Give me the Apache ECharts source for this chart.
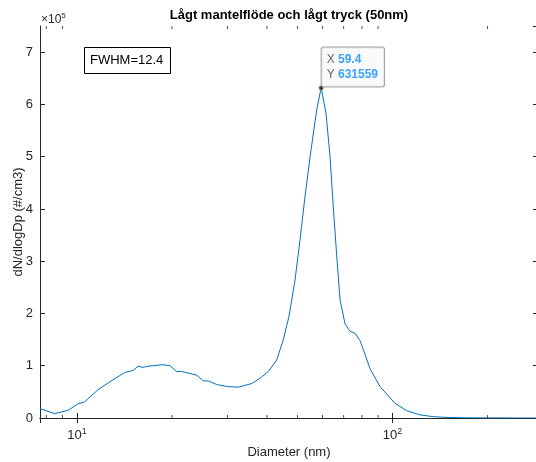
<!DOCTYPE html>
<html>
<head>
<meta charset="utf-8">
<script src="https://cdn.jsdelivr.net/npm/echarts@6/dist/echarts.min.js"></script>
<style>html,body{margin:0;padding:0;background:#fff}#c{width:536px;height:462px}</style>
</head>
<body>
<div id="c"></div>
<script>
// ---- data ----
const diameters = [7.64, 8.50, 9.37, 10.08, 10.58, 11.66, 12.70, 14.17, 15.06, 15.62, 16.20, 16.80, 18.74, 19.72, 20.71, 21.48, 22.83, 23.97, 25.15, 26.09, 27.73, 30.18, 32.46, 35.81, 38.03, 40.42, 42.97, 45.08, 47.0, 49.1, 50.9, 52.8, 54.8, 57.5, 59.4, 61.55, 63.4, 64.9, 66.6, 68.2, 70.7, 73.3, 76.1, 78.9, 81.8, 84.9, 91.3, 95.8, 101.8, 110.9, 122.2, 134.7, 150, 170, 200, 250, 289];
const concentrations = [18000, 8300, 14600, 27000, 31000, 54000, 69000, 87000, 91000, 99000, 97000, 99000, 102000, 100000, 89000, 89000, 85000, 82000, 71000, 71000, 64000, 60000, 59000, 66000, 76000, 89000, 111000, 150000, 195000, 264000, 340000, 423000, 500000, 589000, 631559, 583000, 500000, 404000, 308000, 226000, 180000, 166000, 162000, 148000, 122000, 94000, 60000, 46000, 28000, 14000, 6000, 2500, 1000, 400, 150, 50, 20];
const peakPoint = [59.4, 631559];
const minorTickValues = [8, 9, 20, 30, 40, 50, 60, 70, 80, 90, 200];
const yTickScale = 1e5;
const titleText = 'Lågt mantelflöde och lågt tryck (50nm)';
const xName = 'Diameter (nm)';
const yName = 'dN/dlogDp (#/cm3)';
const annotationText = 'FWHM=12.4';

const xMin = 7.64, xMax = 289, yMin = 0, yMax = 750000, yInterval = 100000;
const axisColor = '#262626';
const fontFamily = '"Liberation Sans", Arial, Helvetica, sans-serif';

const chart = echarts.init(document.getElementById('c'), null, {renderer: 'canvas'});
const lineData = diameters.map((d, i) => [d, concentrations[i]]);

function xLabel(v) {
  const e = Math.log10(v);
  const r = Math.round(e);
  if (Math.abs(e - r) > 1e-6) return '';
  return '{b|10}{s|' + r + '}';
}

const option = {
  animation: false,
  backgroundColor: '#fff',
  textStyle: {fontFamily: fontFamily},
  grid: {left: 40, right: -2, top: 26, bottom: 44, containLabel: false, outerBoundsMode: 'none'},
  xAxis: [{
    type: 'log', logBase: 10, min: xMin, max: xMax, position: 'bottom',
    axisLine: {show: true, lineStyle: {color: axisColor, width: 1}},
    axisTick: {show: true, inside: true, length: 5, lineStyle: {color: axisColor}},
    splitLine: {show: false},
    axisLabel: {
      show: true, margin: 9, color: axisColor, formatter: xLabel,
      showMinLabel: false, showMaxLabel: false,
      rich: {
        b: {fontSize: 13, color: axisColor, fontFamily: fontFamily},
        s: {fontSize: 9, color: axisColor, fontFamily: fontFamily, verticalAlign: 'top', padding: [0, 0, 7, 0]}
      }
    },
    name: xName, nameLocation: 'middle', nameGap: 26,
    nameTextStyle: {fontSize: 13, color: axisColor, fontFamily: fontFamily}
  }, {
    type: 'log', logBase: 10, min: xMin, max: xMax, position: 'top',
    axisLine: {show: true, lineStyle: {color: axisColor, width: 1}},
    axisTick: {show: true, inside: true, length: 5, lineStyle: {color: axisColor}},
    axisLabel: {show: false}, splitLine: {show: false}
  }],
  yAxis: [{
    type: 'value', min: yMin, max: yMax, interval: yInterval, position: 'left',
    axisLine: {show: true, lineStyle: {color: axisColor, width: 1}},
    axisTick: {show: true, inside: true, length: 5, lineStyle: {color: axisColor}},
    splitLine: {show: false},
    axisLabel: {
      show: true, margin: 7, fontSize: 13, color: axisColor, showMaxLabel: false,
      formatter: v => (v % yInterval === 0 ? String(v / yTickScale) : '')
    },
    name: yName, nameLocation: 'middle', nameGap: 15, nameMoveOverlap: false,
    nameTextStyle: {fontSize: 13, color: axisColor, fontFamily: fontFamily}
  }, {
    type: 'value', min: yMin, max: yMax, interval: yInterval, position: 'right',
    axisLine: {show: true, lineStyle: {color: axisColor, width: 1}},
    axisTick: {show: true, inside: true, length: 5, lineStyle: {color: axisColor}},
    axisLabel: {show: false}, splitLine: {show: false}
  }],
  series: [{
    type: 'line', xAxisIndex: 0, yAxisIndex: 0,
    data: lineData, showSymbol: false, symbol: 'none', smooth: false,
    lineStyle: {color: '#0072BD', width: 1}, clip: true, z: 3
  }, {
    type: 'scatter', xAxisIndex: 0, yAxisIndex: 0, silent: true,
    data: minorTickValues.map(v => [v, yMin]),
    symbol: 'rect', symbolSize: [1, 3], symbolOffset: [0, -1.5],
    itemStyle: {color: axisColor}, z: 4
  }, {
    type: 'scatter', xAxisIndex: 0, yAxisIndex: 0, silent: true,
    data: minorTickValues.map(v => [v, yMax]),
    symbol: 'rect', symbolSize: [1, 3], symbolOffset: [0, 1.5],
    itemStyle: {color: axisColor}, z: 4
  }, {
    type: 'scatter', xAxisIndex: 0, yAxisIndex: 0,
    data: [peakPoint], symbol: 'circle', symbolSize: 5,
    itemStyle: {color: '#1a1a1a', borderColor: '#e6dc8c', borderWidth: 1},
    z: 10,
    label: {
      show: true, position: [3.5, 1.5], align: 'left', verticalAlign: 'bottom',
      formatter: '{k|X} {v|' + peakPoint[0] + '}\n{k|Y} {v|' + peakPoint[1] + '}',
      backgroundColor: '#f9f9fd', borderColor: '#8c8c8c', borderWidth: 1, borderRadius: 2,
      padding: [5, 6, 4, 5], lineHeight: 15,
      rich: {
        k: {color: '#404040', fontSize: 12, fontFamily: fontFamily, lineHeight: 15},
        v: {color: '#0a8cff', fontSize: 12, fontWeight: 'bold', fontFamily: fontFamily, lineHeight: 15}
      }
    }
  }],
  graphic: [{
    type: 'text', x: 289, y: 15.5, silent: true,
    style: {text: titleText, align: 'center', verticalAlign: 'middle', fill: '#000',
            font: 'bold 13px ' + fontFamily}
  }, {
    type: 'text', x: 41, y: 19.5, silent: true,
    style: {
      text: '{a|×10}{s|5}', verticalAlign: 'middle', align: 'left',
      rich: {
        a: {fontSize: 12, fill: axisColor, fontFamily: fontFamily},
        s: {fontSize: 8, fill: axisColor, fontFamily: fontFamily, padding: [0, 0, 8, 0]}
      }
    }
  }, {
    type: 'rect', silent: true,
    shape: {x: 84.5, y: 47.5, width: 86, height: 26},
    style: {fill: '#fff', stroke: '#000', lineWidth: 1}, z: 20
  }, {
    type: 'text', x: 90, y: 60.5, silent: true, z: 21,
    style: {text: annotationText, align: 'left', verticalAlign: 'middle', fill: '#000',
            font: '13px ' + fontFamily}
  }]
};
chart.setOption(option);
</script>
</body>
</html>
